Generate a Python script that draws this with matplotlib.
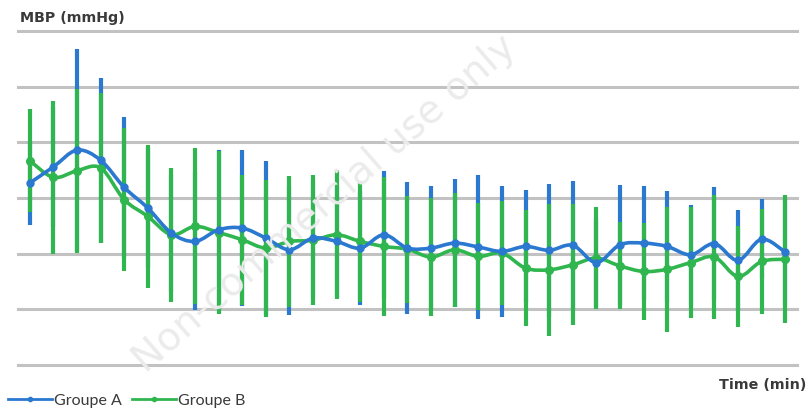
import matplotlib
matplotlib.use("Agg")
import matplotlib.pyplot as plt
import numpy as np
from matplotlib.path import Path
from matplotlib.patches import PathPatch
from matplotlib.lines import Line2D

plt.rcParams['font.family'] = ['Lato', 'DejaVu Sans']

# Measurement index along the time axis
time_points = list(range(33))

# Mean blood pressure (mmHg) and standard deviation per group
groupe_a_mean = [72.7, 75.6, 78.6, 76.8, 71.9, 68.2, 63.7, 62.2, 64.3, 64.6, 62.8,
                 60.7, 62.8, 62.2, 61.0, 63.4, 61.0, 61.0, 61.9, 61.2, 60.4, 61.3,
                 60.6, 61.5, 58.4, 61.6, 61.9, 61.3, 59.8, 61.8, 58.8, 62.6, 60.3]
groupe_a_sd = [7.5, 10.8, 18.1, 14.8, 12.7, 10.8, 10.5, 12.4, 14.4, 14.0, 13.8,
               11.7, 10.5, 10.0, 10.2, 11.5, 11.8, 11.1, 11.5, 13.0, 11.7, 10.2,
               12.0, 11.5, 8.0, 10.8, 10.2, 9.9, 9.0, 10.1, 9.1, 7.2, 9.5]
groupe_b_mean = [76.7, 73.7, 74.9, 75.4, 69.7, 66.7, 63.4, 64.9, 63.8, 62.5, 61.0,
                 62.2, 62.4, 63.4, 62.2, 61.3, 60.8, 59.4, 60.7, 59.5, 60.1, 57.4,
                 57.1, 58.0, 59.2, 57.8, 56.8, 57.2, 58.4, 59.4, 55.9, 58.6, 59.0]
groupe_b_sd = [9.3, 13.7, 14.7, 13.5, 12.8, 12.9, 12.0, 14.0, 14.7, 11.7, 12.3,
               11.8, 11.7, 11.6, 10.8, 12.5, 9.6, 10.6, 10.2, 9.6, 9.3, 10.4,
               11.9, 10.9, 9.1, 7.8, 8.7, 11.2, 10.0, 11.1, 9.0, 9.4, 11.5]

y_grid = [40, 50, 60, 70, 80, 90, 100]
labels = ["Groupe A", "Groupe B"]

BLUE = "#2a78d0"
GREEN = "#2fb64f"
GRID = "#c2c2c2"
TEXT = "#3a3a3a"


def smooth_path(xs, ys):
    """Cubic Bezier path through the points (Catmull-Rom style smoothing)."""
    pts = np.column_stack([xs, ys]).astype(float)
    verts = [pts[0]]
    codes = [Path.MOVETO]
    n = len(pts)
    for i in range(n - 1):
        p0 = pts[i - 1] if i > 0 else pts[i]
        p1 = pts[i]
        p2 = pts[i + 1]
        p3 = pts[i + 2] if i + 2 < n else pts[i + 1]
        c1 = p1 + (p2 - p0) / 6.0
        c2 = p2 - (p3 - p1) / 6.0
        verts += [c1, c2, p2]
        codes += [Path.CURVE4] * 3
    return Path(verts, codes)


fig = plt.figure(figsize=(8.12, 4.08), dpi=100)
fig.patch.set_facecolor("white")

# faint diagonal watermark
fig.text(0.40, 0.50, "Non-commercial use only", fontsize=28, color="#ebebeb",
         rotation=41, ha="center", va="center", zorder=0,
         family=['DejaVu Sans'])

ax = fig.add_axes([18 / 812, 1 - 365 / 408, (797 - 18) / 812, (365 - 31) / 408])
ax.set_facecolor("none")
ax.set_xlim(-0.5, len(time_points) - 0.5)
ax.set_ylim(y_grid[0], y_grid[-1])
ax.set_yticks(y_grid)
ax.set_xticks([])
ax.tick_params(left=False, labelleft=False)
ax.yaxis.grid(True, color=GRID, linewidth=2.2)
for gl in ax.get_ygridlines():
    gl.set_clip_on(False)
ax.set_axisbelow(True)
for s in ax.spines.values():
    s.set_visible(False)

# error bars: group A behind group B
ax.errorbar(time_points, groupe_a_mean, yerr=groupe_a_sd, fmt="none",
            ecolor=BLUE, elinewidth=3, capsize=0, zorder=2)
ax.errorbar(time_points, groupe_b_mean, yerr=groupe_b_sd, fmt="none",
            ecolor=GREEN, elinewidth=3, capsize=0, zorder=3)

# smoothed mean curves with markers
ax.add_patch(PathPatch(smooth_path(time_points, groupe_b_mean), fill=False,
                       edgecolor=GREEN, linewidth=2.6, zorder=4))
ax.plot(time_points, groupe_b_mean, "o", color=GREEN, ms=5.5, zorder=5)
ax.add_patch(PathPatch(smooth_path(time_points, groupe_a_mean), fill=False,
                       edgecolor=BLUE, linewidth=2.6, zorder=6))
ax.plot(time_points, groupe_a_mean, "o", color=BLUE, ms=5, zorder=7)

fig.text(20 / 812, 1 - 18 / 408, "MBP (mmHg)", fontsize=10.3, fontweight="bold",
         color=TEXT, ha="left", va="center", family=['DejaVu Sans'])
fig.text(806 / 812, 1 - 385 / 408, "Time (min)", fontsize=10.3, fontweight="bold",
         color=TEXT, ha="right", va="center", family=['DejaVu Sans'])

handles = [Line2D([], [], color=BLUE, marker="o", ms=3, lw=2),
           Line2D([], [], color=GREEN, marker="o", ms=3, lw=2)]
fig.legend(handles, labels, loc="lower left", bbox_to_anchor=(-0.008, -0.035),
           ncol=2, frameon=False, fontsize=11.5, handlelength=2.75,
           handletextpad=0.15, columnspacing=0.6, labelcolor=TEXT)

fig.savefig("out.png", dpi=100)
